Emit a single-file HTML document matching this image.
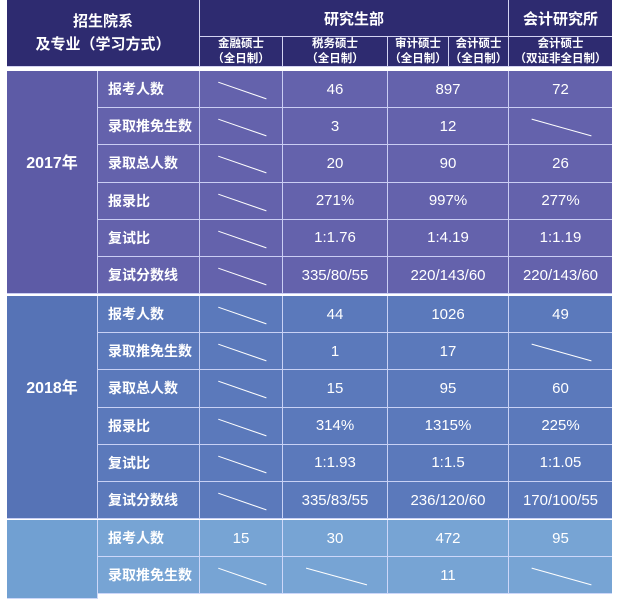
<!DOCTYPE html>
<html><head><meta charset="utf-8"><style>
body{margin:0;width:617px;height:599px;background:#fff;overflow:hidden;font-family:"Liberation Sans","Noto Sans CJK SC",sans-serif;}
#t{position:absolute;left:0;top:0;width:617px;height:599px;}
.c{position:absolute;box-sizing:border-box;color:#fff;display:flex;align-items:center;justify-content:center;text-align:center;border-right:1.5px solid rgba(220,225,255,0.85);border-bottom:1.5px solid rgba(220,225,255,0.85);font-size:15px;}
.h{background:#2e2b70;font-weight:bold;border-color:rgba(230,230,255,0.9);}
.lab{justify-content:flex-start;padding-left:10px;font-weight:bold;font-size:14px;}
.yr{font-weight:bold;font-size:16px;padding-bottom:42px;}
.sub{font-size:11.5px;line-height:15px;}
</style></head><body>
<div id="t">
<div class="c h" style="left:7px;top:0;width:193px;height:67px;font-size:15px;line-height:23px">招生院系<br>及专业（学习方式）</div>
<div class="c h" style="left:200px;top:0;width:309px;height:37px;font-size:15px">研究生部</div>
<div class="c h" style="left:509px;top:0;width:103px;height:37px;font-size:15px;border-right:none">会计研究所</div>
<div class="c h sub" style="left:200px;top:37px;width:83px;height:30px">金融硕士<br>（全日制）</div>
<div class="c h sub" style="left:283px;top:37px;width:105px;height:30px">税务硕士<br>（全日制）</div>
<div class="c h sub" style="left:388px;top:37px;width:61px;height:30px">审计硕士<br>（全日制）</div>
<div class="c h sub" style="left:449px;top:37px;width:60px;height:30px">会计硕士<br>（全日制）</div>
<div class="c h sub" style="left:509px;top:37px;width:103px;height:30px;border-right:none">会计硕士<br>（双证非全日制）</div>
</div>
<script>
const years=["2017年","2018年",""];
const labels=[["报考人数","录取推免生数","录取总人数","报录比","复试比","复试分数线"],["报考人数","录取推免生数","录取总人数","报录比","复试比","复试分数线"],["报考人数","录取推免生数"]];
const v2017=[["/","46","897","72"],["/","3","12","/"],["/","20","90","26"],["/","271%","997%","277%"],["/","1:1.76","1:4.19","1:1.19"],["/","335/80/55","220/143/60","220/143/60"]];
const v2018=[["/","44","1026","49"],["/","1","17","/"],["/","15","95","60"],["/","314%","1315%","225%"],["/","1:1.93","1:1.5","1:1.05"],["/","335/83/55","236/120/60","170/100/55"]];
const v2019=[["15","30","472","95"],["/","/","11","/"]];
const vals=[v2017,v2018,v2019];
const bg=["#6462ac","#5b79bb","#77a4d4"];
const yrbg=["#5d5ba6","#5673b6","#71a0d2"];
const starts=[71,296,520];
const rowH=37.2;
const colX=[7,98,200,283,388,509,612];
const t=document.getElementById('t');
function cell(x,y,w,h,cls,txt,b){const d=document.createElement('div');d.className='c '+cls;d.style.left=x+'px';d.style.top=y+'px';d.style.width=w+'px';d.style.height=h+'px';d.style.background=b;if(txt==='/'){d.innerHTML='<svg width="'+w+'" height="'+h+'" style="position:absolute;left:0;top:0"><line x1="'+(w*0.22)+'" y1="'+(h*0.3)+'" x2="'+(w*0.8)+'" y2="'+(h*0.75)+'" stroke="#fff" stroke-width="1"/></svg>';}else d.textContent=txt;t.appendChild(d);return d;}
for(let b=0;b<3;b++){
  const n=labels[b].length;const y0=starts[b];
  const yh=b<2?n*rowH:599-y0;
  const yc=cell(colX[0],y0,colX[1]-colX[0],yh,'yr',years[b],yrbg[b]);
  
  
  for(let r=0;r<n;r++){
    const y=y0+r*rowH;
    const lc=cell(colX[1],y,colX[2]-colX[1],rowH,'lab',labels[b][r],bg[b]);
    
    
    for(let k=0;k<4;k++){
      const vc=cell(colX[2+k],y,colX[3+k]-colX[2+k],rowH,'',vals[b][r][k],bg[b]);
      if(k===3)vc.style.borderRight='none';
      
      
    }
  }
}
</script>
</body></html>
